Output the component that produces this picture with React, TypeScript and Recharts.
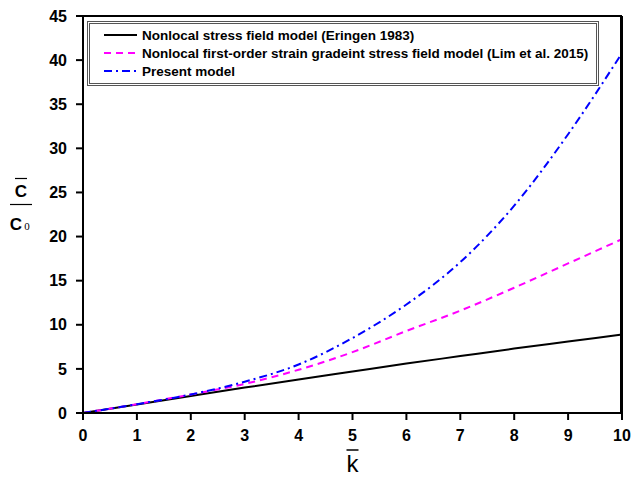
import React from 'react';
import { LineChart, Line, XAxis, YAxis } from 'recharts';

const kValues = [0, 1, 2, 3, 4, 5, 6, 7, 8, 9, 10];
const eringen = [0, 0.97, 1.93, 2.88, 3.8, 4.7, 5.6, 6.45, 7.3, 8.1, 8.9];
const lim = [0, 1.0, 2.1, 3.3, 4.9, 6.9, 9.3, 11.6, 14.2, 16.95, 19.7];
const present = [0, 1.0, 2.1, 3.55, 5.5, 8.5, 12.3, 17.1, 23.5, 31.6, 40.8];

const xTicks = [0, 1, 2, 3, 4, 5, 6, 7, 8, 9, 10];
const yTicks = [0, 5, 10, 15, 20, 25, 30, 35, 40, 45];

const seriesInfo = [
  { key: 'eringen', name: 'Nonlocal stress field model (Eringen 1983)', color: '#000000', dash: '' },
  { key: 'lim', name: 'Nonlocal first-order strain gradeint stress field model (Lim et al. 2015)', color: '#FF00FF', dash: '7 5' },
  { key: 'present', name: 'Present model', color: '#0000FF', dash: '8 4 2 4' },
];

const data = kValues.map((k, i) => ({
  k,
  eringen: eringen[i],
  lim: lim[i],
  present: present[i],
}));

const FONT = 'Arial, "Liberation Sans", sans-serif';

// legend drawn as an overlay so it doesn't shrink the plot
const LegendBox = () => (
  <div
    style={{
      position: 'absolute',
      left: 87,
      top: 21,
      width: 506,
      border: '3px double #555',
      background: '#fff',
      padding: '2px 0 3px 0',
      fontFamily: FONT,
      fontWeight: 'bold',
      fontSize: 13.5,
      color: '#000',
    }}
  >
    {seriesInfo.map((s) => (
      <div key={s.key} style={{ display: 'flex', alignItems: 'center', height: 18 }}>
        <svg width={52} height={10} style={{ flex: 'none' }}>
          <line x1={14} x2={47} y1={5} y2={5} stroke={s.color} strokeWidth={2} strokeDasharray={s.dash} />
        </svg>
        <span style={{ whiteSpace: 'nowrap' }}>{s.name}</span>
      </div>
    ))}
  </div>
);

const YLabel = (props: any) => {
  const vb = props.viewBox;
  const cx = vb.x + 21;
  const cy = vb.y + vb.height / 2 - 10;
  return (
    <g fontFamily={FONT} fill="#000">
      <line x1={cx - 6} x2={cx + 6} y1={cy - 26} y2={cy - 26} stroke="#000" strokeWidth={1.2} />
      <text x={cx} y={cy - 8} textAnchor="middle" fontSize={17} fontWeight="bold">C</text>
      <line x1={cx - 11} x2={cx + 11} y1={cy} y2={cy} stroke="#000" strokeWidth={1.2} />
      <text x={cx - 5} y={cy + 25} textAnchor="middle" fontSize={17} fontWeight="bold">C</text>
      <text x={cx + 6} y={cy + 25} textAnchor="middle" fontSize={11} fontFamily="serif">0</text>
    </g>
  );
};

const XLabel = (props: any) => {
  const vb = props.viewBox;
  const cx = vb.x + vb.width / 2;
  return (
    <g fontFamily={FONT} fill="#000">
      <line x1={cx - 6} x2={cx + 6} y1={vb.y + 37} y2={vb.y + 37} stroke="#000" strokeWidth={1.5} />
      <text x={cx} y={vb.y + 59} textAnchor="middle" fontSize={24}>k</text>
    </g>
  );
};

const tickStyle = { fontFamily: FONT, fontWeight: 'bold', fontSize: 16, fill: '#000' };

export default function App() {
  return (
    <div style={{ position: 'absolute', left: 0, top: 0, width: 632, height: 484, background: '#fff' }}>
      <LineChart width={632} height={484} data={data} margin={{ top: 15, right: 9, left: 0, bottom: 0 }}>
        <XAxis
          dataKey="k"
          type="number"
          domain={[0, 10]}
          ticks={xTicks}
          tick={tickStyle}
          tickSize={7}
          tickMargin={10}
          axisLine={{ stroke: '#000', strokeWidth: 2 }}
          tickLine={{ stroke: '#000', strokeWidth: 2 }}
          height={71}
          label={<XLabel />}
        />
        <XAxis
          xAxisId="top"
          orientation="top"
          dataKey="k"
          type="number"
          domain={[0, 10]}
          ticks={xTicks}
          tick={false}
          tickLine={false}
          axisLine={{ stroke: '#000', strokeWidth: 2 }}
          height={1}
        />
        <YAxis
          type="number"
          domain={[0, 45]}
          ticks={yTicks}
          tick={tickStyle}
          tickSize={7}
          tickMargin={9}
          axisLine={{ stroke: '#000', strokeWidth: 2 }}
          tickLine={{ stroke: '#000', strokeWidth: 2 }}
          width={83}
          allowDataOverflow
          label={<YLabel />}
        />
        <YAxis
          yAxisId="right"
          orientation="right"
          type="number"
          domain={[0, 45]}
          tick={false}
          tickLine={false}
          axisLine={{ stroke: '#000', strokeWidth: 2 }}
          width={1}
        />
        {seriesInfo.map((s) => (
          <Line
            key={s.key}
            dataKey={s.key}
            name={s.name}
            type="monotone"
            stroke={s.color}
            strokeWidth={2}
            strokeDasharray={s.dash || undefined}
            dot={false}
            isAnimationActive={false}
          />
        ))}
      </LineChart>
      {/* frame top/right edge, drawn over the chart */}
      <svg
        width={632}
        height={484}
        style={{ position: 'absolute', left: 0, top: 0, pointerEvents: 'none' }}
      >
        <polyline points="82,16 621,16 621,414" fill="none" stroke="#000" strokeWidth={2} />
      </svg>
      <LegendBox />
    </div>
  );
}
